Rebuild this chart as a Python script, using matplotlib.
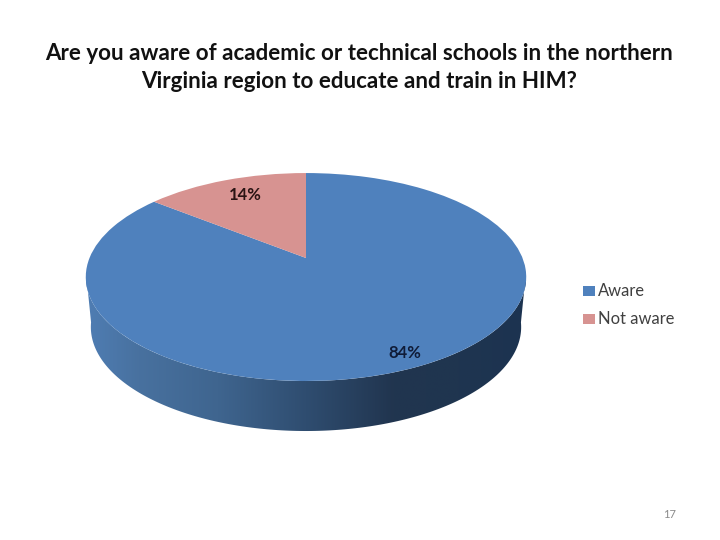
import matplotlib
matplotlib.use('Agg')
import matplotlib.pyplot as plt
import numpy as np
from matplotlib.colors import LinearSegmentedColormap
from matplotlib.patches import Polygon, Rectangle
from matplotlib.transforms import Transform

plt.rcParams['font.family'] = ['Lato', 'DejaVu Sans']

title_lines = ['Are you aware of academic or technical schools in the northern',
               'Virginia region to educate and train in HIM?']
categories = ['Aware', 'Not aware']
values = [84, 14]
value_labels = ['84%', '14%']
colors = ['#4f81bd', '#d79391']
page_number = '17'

# pie is seen in perspective, so its centre is not the middle of the ellipse
cx, cy = 306, 258
a, b, k = 216.5, 100.5, 0.183


class Tilt(Transform):
    input_dims = 2
    output_dims = 2

    def transform_non_affine(self, xy):
        xy = np.asarray(xy, dtype=float)
        d = 1 + k * xy[:, 1]
        return np.column_stack([cx + a * xy[:, 0] / d, cy - b * xy[:, 1] / d])


def rim(t, dy=0, shrink=1.0):
    p = Tilt().transform_non_affine(np.column_stack([np.cos(t), np.sin(t)]))
    p[:, 0] = cx + (p[:, 0] - cx) * shrink
    p[:, 1] = p[:, 1] + dy
    return p


fig = plt.figure(figsize=(7.2, 5.4), dpi=100)
ax = fig.add_axes([0, 0, 1, 1])

wedges, _ = ax.pie(values, colors=colors, startangle=90, counterclock=False)
tilt = Tilt() + ax.transData
for w in wedges:
    w.set_transform(tilt)
    w.set_zorder(3)

ax.set_aspect('auto')
ax.set_xlim(0, 720)
ax.set_ylim(540, 0)
ax.axis('off')

# side of the pie, gradient clipped to the band under the rim
t = np.radians(np.linspace(188, 352, 200))
side = np.vstack([rim(t), rim(t[::-1], dy=50, shrink=0.977)])
clip = Polygon(side, closed=True, transform=ax.transData, fc='none', ec='none')
ax.add_patch(clip)
cmap = LinearSegmentedColormap.from_list('side', [
    (0.0, '#4f7db3'), (0.12, '#48719f'), (0.3, '#3f658f'),
    (0.5, '#2f4d70'), (0.7, '#21354f'), (0.85, '#1f3550'), (1.0, '#1c3350')])
grad = ax.imshow(np.linspace(0, 1, 256)[None, :], cmap=cmap, aspect='auto',
                 extent=[86, 526, 440, 270], zorder=2)
grad.set_clip_path(clip)
ax.set_xlim(0, 720)
ax.set_ylim(540, 0)

ax.text(404.5, 352.5, value_labels[0], fontsize=12, fontweight='bold',
        color='#101c38', ha='center', va='center', zorder=4)
ax.text(245.5, 194.5, value_labels[1], fontsize=12, fontweight='bold',
        color='#2a1414', ha='center', va='center', zorder=4)

for i, line in enumerate(title_lines):
    ax.text(359, 53 + i * 29, line, fontsize=16.1, fontweight='bold', color='#111111',
            ha='center', va='center')

# legend by hand to get the squares where they are in the slide
for i, (name, c) in enumerate(zip(categories, colors)):
    y = 290.5 + i * 28
    ax.add_patch(Rectangle((583, y - 5), 12, 10, fc=c, ec='none'))
    ax.text(598, y + 1, name, fontsize=11.9, color='#404040', ha='left', va='center')

ax.text(670, 514, page_number, fontsize=8, color='#8a8a8a', ha='center', va='center')

plt.savefig('out.png', dpi=100)
